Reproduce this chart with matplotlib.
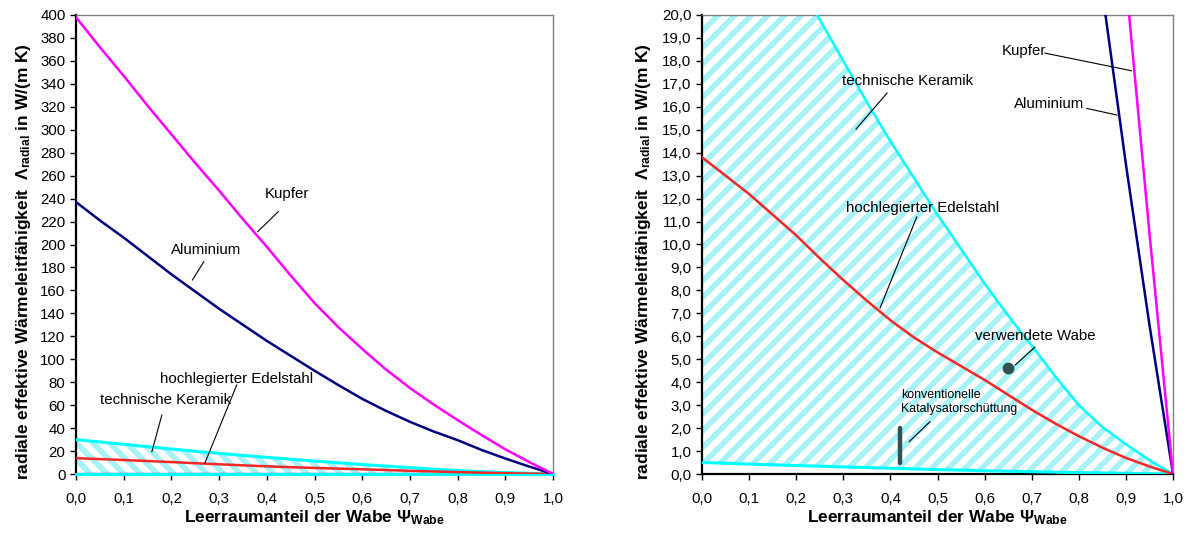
import matplotlib
matplotlib.use("Agg")
import matplotlib.pyplot as plt
from matplotlib.ticker import FuncFormatter, MultipleLocator

# Leerraumanteil der Wabe
psi = [0.0, 0.05, 0.1, 0.15, 0.2, 0.25, 0.3, 0.35, 0.4, 0.45, 0.5,
       0.55, 0.6, 0.65, 0.7, 0.75, 0.8, 0.85, 0.9, 0.95, 1.0]

# radiale effektive Waermeleitfaehigkeit in W/(m K)
kupfer = [398, 372, 347, 321, 296, 271, 247, 222, 198, 173, 149,
          128, 109, 91, 75, 60.5, 47, 34, 21.5, 10.5, 0]
aluminium = [237, 221, 206, 190, 174, 159, 144, 130, 116, 103, 90,
             77.5, 65.5, 55, 45.5, 37, 29.5, 21, 13.5, 6.5, 0]
edelstahl = [13.8, 13.0, 12.2, 11.3, 10.4, 9.4, 8.45, 7.55, 6.7, 5.95, 5.3,
             4.7, 4.1, 3.45, 2.8, 2.2, 1.65, 1.15, 0.7, 0.33, 0]
keramik_hi = [30.0, 27.9, 25.9, 23.8, 21.8, 19.8, 18.0, 16.2, 14.5, 12.9, 11.3,
              9.8, 8.3, 6.9, 5.6, 4.25, 3.0, 2.05, 1.3, 0.6, 0]
keramik_lo = [0.5, 0.47, 0.43, 0.40, 0.37, 0.34, 0.31, 0.28, 0.25, 0.22, 0.19,
              0.17, 0.14, 0.12, 0.10, 0.08, 0.06, 0.045, 0.03, 0.015, 0]

# Messpunkte
wabe_psi = [0.65]
wabe_val = [4.6]
schuett_psi = [0.42, 0.42]
schuett_val = [0.5, 2.0]

plt.rcParams["font.family"] = ["Liberation Sans", "DejaVu Sans"]
plt.rcParams["mathtext.fontset"] = "custom"
plt.rcParams["mathtext.rm"] = "Liberation Sans:bold"
plt.rcParams["mathtext.bf"] = "Liberation Sans:bold"
plt.rcParams["mathtext.it"] = "Liberation Sans:bold:italic"
plt.rcParams["hatch.linewidth"] = 4.0

c_kupfer = "#ff00ff"
c_alu = "#000080"
c_stahl = "#f02828"
c_ker = "#00ffff"
c_hatch = "#a6f2f7"
c_punkt = "#2f5252"

tick_fs = 10.8
ann_fs = 10.8
lab_fs = 12.5

ylabel = "radiale effektive Wärmeleitfähigkeit  $\\Lambda_{\\mathrm{radial}}$ in W/(m K)"
xlabel = "Leerraumanteil der Wabe $\\Psi_{\\mathrm{Wabe}}$"

fig = plt.figure(figsize=(11.91, 5.38), dpi=100)
ax1 = fig.add_axes([76 / 1191, 64 / 538, 477 / 1191, 459 / 538])
ax2 = fig.add_axes([702 / 1191, 64 / 538, 471 / 1191, 459 / 538])


def comma(fmt):
    return FuncFormatter(lambda v, p: (fmt % v).replace(".", ","))


def style(ax, ymax, ystep, yfmt, ylab_x):
    ax.set_xlim(0, 1)
    ax.set_ylim(0, ymax)
    ax.xaxis.set_major_locator(MultipleLocator(0.1))
    ax.yaxis.set_major_locator(MultipleLocator(ystep))
    ax.xaxis.set_major_formatter(comma("%.1f"))
    ax.yaxis.set_major_formatter(comma(yfmt))
    ax.tick_params(direction="out", length=4, width=1, labelsize=tick_fs)
    ax.tick_params(axis="x", pad=9)
    ax.tick_params(axis="y", pad=3.5)
    for s in ("left", "bottom"):
        ax.spines[s].set_color("black")
        ax.spines[s].set_linewidth(1.6)
    for s in ("top", "right"):
        ax.spines[s].set_color("#808080")
        ax.spines[s].set_linewidth(1.0)
    ax.set_xlabel(xlabel, fontsize=lab_fs, fontweight="bold", va="center")
    ax.set_ylabel(ylabel, fontsize=lab_fs, fontweight="bold", va="center")
    ax.xaxis.set_label_coords(0.5, -0.095)
    ax.yaxis.set_label_coords(ylab_x, 0.462)


def leader(ax, x0, y0, x1, y1):
    ax.plot([x0, x1], [y0, y1], color="black", lw=0.8, zorder=6)


# ---- linkes Diagramm ----
ax1.fill_between(psi, [0] * len(psi), keramik_hi, facecolor="none",
                 edgecolor=c_hatch, linewidth=0, hatch="\\\\", zorder=1)
ax1.plot(psi, keramik_hi, color=c_ker, lw=2.2, zorder=3)
ax1.plot(psi, [0] * len(psi), color=c_ker, lw=2.2, zorder=3, clip_on=False)
ax1.plot(psi, edelstahl, color=c_stahl, lw=1.8, zorder=4)
ax1.plot(psi, aluminium, color=c_alu, lw=1.8, zorder=4)
ax1.plot(psi, kupfer, color=c_kupfer, lw=1.8, zorder=4)
style(ax1, 400, 20, "%.0f", -0.11)

ax1.text(0.443, 243.6, "Kupfer", fontsize=ann_fs, ha="center", va="center")
leader(ax1, 0.424, 228.6, 0.381, 211.2)
ax1.text(0.272, 194.8, "Aluminium", fontsize=ann_fs, ha="center", va="center")
leader(ax1, 0.268, 185.0, 0.244, 169.1)
ax1.text(0.337, 82.8, "hochlegierter Edelstahl", fontsize=ann_fs, ha="center", va="center")
leader(ax1, 0.337, 77.6, 0.270, 9.3)
ax1.text(0.188, 64.9, "technische Keramik", fontsize=ann_fs, ha="center", va="center")
leader(ax1, 0.180, 51.4, 0.159, 19.4)

# ---- rechtes Diagramm ----
ax2.fill_between(psi, keramik_lo, keramik_hi, facecolor="none",
                 edgecolor=c_hatch, linewidth=0, hatch="//", zorder=1)
ax2.plot(psi, keramik_hi, color=c_ker, lw=1.8, zorder=3)
ax2.plot(psi, keramik_lo, color=c_ker, lw=2.2, zorder=3)
ax2.plot(psi, edelstahl, color=c_stahl, lw=1.8, zorder=4)
ax2.plot(psi, aluminium, color=c_alu, lw=1.8, zorder=4)
ax2.plot(psi, kupfer, color=c_kupfer, lw=1.8, zorder=4)
ax2.plot(wabe_psi, wabe_val, "o", color=c_punkt, ms=7.5, zorder=5)
ax2.plot(schuett_psi, schuett_val, color=c_punkt, lw=3.2,
         solid_capstyle="round", zorder=5)
style(ax2, 20, 1, "%.1f", -0.125)

ax2.text(0.436, 17.12, "technische Keramik", fontsize=ann_fs, ha="center", va="center")
leader(ax2, 0.393, 16.6, 0.327, 15.03)
ax2.text(0.469, 11.61, "hochlegierter Edelstahl", fontsize=ann_fs, ha="center", va="center")
leader(ax2, 0.456, 11.2, 0.378, 7.23)
ax2.text(0.683, 18.43, "Kupfer", fontsize=ann_fs, ha="center", va="center")
leader(ax2, 0.728, 18.34, 0.912, 17.57)
ax2.text(0.736, 16.12, "Aluminium", fontsize=ann_fs, ha="center", va="center")
leader(ax2, 0.817, 15.93, 0.881, 15.64)
ax2.text(0.707, 6.01, "verwendete Wabe", fontsize=ann_fs, ha="center", va="center")
leader(ax2, 0.707, 5.53, 0.665, 4.75)
ax2.text(0.422, 3.14, "konventionelle\nKatalysatorschüttung", fontsize=8.9,
         ha="left", va="center", linespacing=1.15)
leader(ax2, 0.484, 2.28, 0.440, 1.41)

fig.savefig("out.png", dpi=100)
